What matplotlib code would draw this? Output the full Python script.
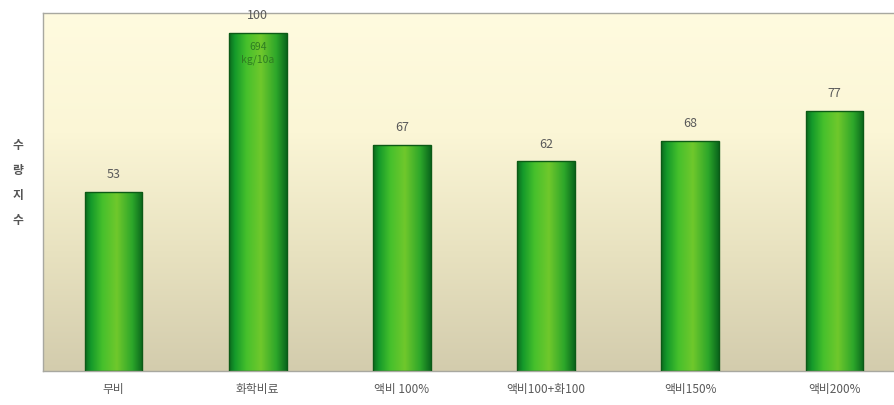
import numpy as np
import matplotlib.pyplot as plt
from matplotlib.colors import LinearSegmentedColormap
from matplotlib.patches import Rectangle

plt.rcParams['font.family'] = ['Noto Sans CJK KR', 'DejaVu Sans']

categories = ['무비', '화학비료', '액비 100%', '액비100+화100', '액비150%', '액비200%']
values = [53, 100, 67, 62, 68, 77]
inner_note = '694\nkg/10a'

fig = plt.figure(figsize=(8.95, 4.05), dpi=100)
ax = fig.add_axes([43 / 895, 1 - 371 / 405, 1 - 43 / 895, 358 / 405])

xlim = (-0.49, 5.42)
ylim = (0, 105.9)
ax.set_xlim(*xlim)
ax.set_ylim(*ylim)

# background: pale cream at the top fading to tan at the bottom
bg = LinearSegmentedColormap.from_list('bg', ['#d3ccad', '#e8e2c0', '#fbf6d6', '#fffbdf'])
grad = np.linspace(0, 1, 256).reshape(-1, 1)
ax.imshow(grad, cmap=bg, aspect='auto', origin='lower',
          extent=(*xlim, *ylim), zorder=0)

# bars with a horizontal green gradient
bar_cmap = LinearSegmentedColormap.from_list(
    'bar', [(0.0, '#0b6a1e'), (0.1, '#14992a'), (0.3, '#45c02c'),
            (0.55, '#70c82c'), (0.82, '#2ca62a'), (1.0, '#0a661c')])
hgrad = np.linspace(0, 1, 256).reshape(1, -1)
width = 0.40
x = np.arange(len(categories))
for xi, v in zip(x, values):
    left = xi - width / 2
    im = ax.imshow(hgrad, cmap=bar_cmap, aspect='auto',
                   extent=(left, left + width, 0, v), zorder=2)
    rect = Rectangle((left, 0), width, v, facecolor='none',
                     edgecolor='#0c5a16', linewidth=1.0, zorder=3)
    ax.add_patch(rect)
    im.set_clip_path(rect)
    ax.text(xi, v + 3.2, str(v), ha='center', va='bottom',
            fontsize=9, color='#5a5a5a', zorder=4)

ax.text(x[1], values[1] - 2.8, inner_note, ha='center', va='top',
        fontsize=7.5, color='#2f7d22', linespacing=1.25, zorder=4)

ax.set_xticks(x)
ax.set_xticklabels(categories, fontsize=8.5, color='#5a5a5a')
ax.tick_params(axis='x', length=0, pad=9)
ax.set_yticks([])

for side in ['top', 'left', 'bottom']:
    ax.spines[side].set_color('#a8a8a0')
    ax.spines[side].set_linewidth(1.0)
ax.spines['right'].set_visible(False)

fig.text(18 / 895, 1 - 183 / 405, '수\n량\n지\n수', ha='center', va='center',
         fontsize=8.5, color='#555555', fontweight='bold', linespacing=2.2)

fig.savefig('out.png', dpi=100)
